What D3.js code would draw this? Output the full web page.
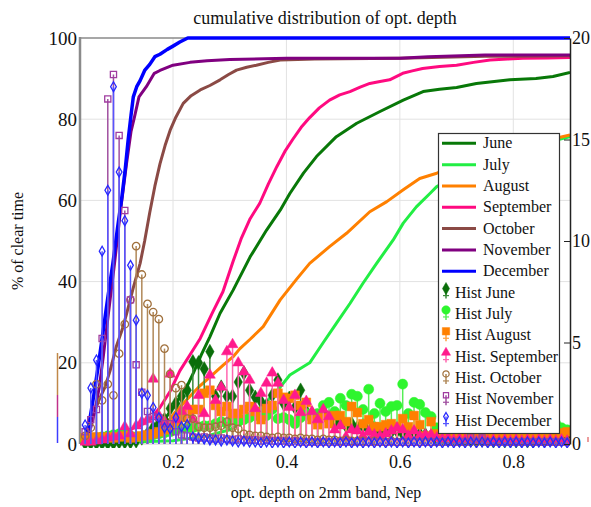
<!DOCTYPE html>
<html>
<head>
<meta charset="utf-8">
<script src="https://cdn.jsdelivr.net/npm/d3@7"></script>
<style>
    body { margin: 0; background: #fff; }
    svg text { font-family: "Liberation Serif", "Times New Roman", serif; fill: #111; }
</style>
</head>
<body>
<div id="chart"></div>
<script>

// axis ticks
var xTicks = [0.2, 0.4, 0.6, 0.8];
var yTicksLeft = [0, 20, 40, 60, 80, 100];
var yTicksRight = [0, 5, 10, 15, 20];

// cumulative curves: [opt. depth, % of clear time]
var cdfJune = [[0.040,0.2],[0.130,1],[0.160,2.5],[0.180,5],[0.200,9],[0.212,11.5],[0.224,14],[0.236,17.5],[0.250,22],[0.265,26.4],[0.283,32.2],[0.306,37.9],[0.336,46.1],[0.365,52.7],[0.389,57.6],[0.406,61.7],[0.430,66.7],[0.453,70.8],[0.488,75.7],[0.524,79],[0.565,81.9],[0.606,84.7],[0.641,86.8],[0.670,87.4],[0.700,87.8],[0.735,88.8],[0.794,89.7],[0.840,90],[0.870,90.5],[0.900,91.5]];
var cdfJuly = [[0.040,0.1],[0.200,0.8],[0.260,2],[0.300,3.5],[0.336,6.5],[0.362,10],[0.389,14],[0.406,17],[0.441,20],[0.465,25],[0.488,29.7],[0.512,34.6],[0.535,39.6],[0.559,44.5],[0.588,50.2],[0.606,54.4],[0.629,58.4],[0.653,61.7],[0.665,63.4],[0.700,66],[0.750,69.5],[0.800,72],[0.850,74],[0.900,75.7]];
var cdfAugust = [[0.040,0.2],[0.120,0.8],[0.160,2],[0.185,4.5],[0.205,8],[0.225,11],[0.245,14],[0.265,16.5],[0.289,19.5],[0.306,21.5],[0.318,23.5],[0.336,25.8],[0.359,28.9],[0.389,35.5],[0.418,40.6],[0.441,44.5],[0.476,48.6],[0.506,51.9],[0.547,57.2],[0.577,59.7],[0.606,62.6],[0.635,65.4],[0.665,66.7],[0.700,68.5],[0.750,70.5],[0.800,72.5],[0.850,74.5],[0.900,76.1]];
var cdfSeptember = [[0.040,0.3],[0.080,1],[0.112,3],[0.142,4.5],[0.159,6],[0.177,9],[0.195,13],[0.212,18],[0.230,22],[0.248,26],[0.270,32.5],[0.288,37.5],[0.306,45],[0.320,50.5],[0.336,55.5],[0.353,59.3],[0.368,64],[0.383,68.3],[0.397,72],[0.411,75],[0.426,78],[0.441,80.4],[0.458,82.8],[0.476,84.7],[0.494,86],[0.512,86.8],[0.530,87.9],[0.547,88.8],[0.565,89.3],[0.582,89.7],[0.605,91.3],[0.622,91.9],[0.640,92.5],[0.670,93],[0.700,93.3],[0.730,94],[0.759,94.6],[0.790,94.8],[0.817,95],[0.860,95.1],[0.900,95.2]];
var cdfOctober = [[0.040,0.5],[0.050,2.5],[0.059,7],[0.070,11],[0.080,14],[0.089,18],[0.100,24],[0.110,28],[0.118,32],[0.130,38.5],[0.142,44.5],[0.150,50],[0.159,57],[0.168,63.5],[0.177,69],[0.186,73.5],[0.195,77.3],[0.205,80.5],[0.218,83.9],[0.232,85.8],[0.248,87.2],[0.265,88.3],[0.283,89.7],[0.298,91],[0.312,92.1],[0.330,92.8],[0.347,93.3],[0.368,94],[0.389,94.6],[0.450,94.8],[0.600,95],[0.750,95.5],[0.900,95.6]];
var cdfNovember = [[0.040,0.5],[0.047,1.5],[0.055,4],[0.062,8],[0.070,14],[0.077,21.5],[0.086,32],[0.097,44.6],[0.107,57],[0.118,69],[0.126,77],[0.132,80.5],[0.140,85.5],[0.153,88],[0.167,91.3],[0.177,92],[0.200,93.3],[0.230,94],[0.260,94.4],[0.300,94.7],[0.400,95],[0.600,95],[0.650,95.4],[0.750,95.8],[0.900,95.8]];
var cdfDecember = [[0.040,0.5],[0.045,1],[0.052,5],[0.060,11.7],[0.068,19],[0.077,28],[0.085,36],[0.094,44.5],[0.102,53],[0.110,61],[0.116,68],[0.121,75],[0.126,81],[0.130,85.5],[0.136,88],[0.142,89.5],[0.150,92],[0.159,93.5],[0.168,95.4],[0.177,96],[0.190,97.2],[0.200,98],[0.212,99],[0.226,100],[0.900,100]];

// histogram bins (opt. depth) and values (% per bin, right axis)
var histBins = [0.045,0.055,0.065,0.075,0.085,0.095,0.105,0.115,0.125,0.135,
    0.145,0.155,0.165,0.175,0.185,0.195,0.205,0.215,0.225,0.235,
    0.245,0.255,0.265,0.275,0.285,0.295,0.305,0.315,0.325,0.335,
    0.345,0.355,0.365,0.375,0.385,0.395,0.405,0.415,0.425,0.435,
    0.445,0.455,0.465,0.475,0.485,0.495,0.505,0.515,0.525,0.535,
    0.545,0.555,0.565,0.575,0.585,0.595,0.605,0.615,0.625,0.635,
    0.645,0.655,0.665,0.675,0.685,0.695,0.705,0.715,0.725,0.735,
    0.745,0.755,0.765,0.775,0.785,0.795,0.805,0.815,0.825,0.835,
    0.845,0.855,0.865,0.875,0.885,0.895];

var histJune = [0.05,0.05,0.05,0.05,0.05,0.05,0.1,0.1,0.1,0.15,
    0.3,0.5,0.8,1.0,1.2,1.75,2.0,2.35,2.65,4.05,
    4.0,3.7,4.55,2.35,2.8,2.35,2.35,3.05,3.5,2.65,
    2.3,2.1,1.9,2.4,3.15,2.0,2.25,1.8,2.65,1.6,
    1.5,1.3,1.6,1.2,1.0,1.1,0.9,1.0,0.8,0.9,
    0.7,0.8,0.6,0.7,0.6,0.65,0.5,0.6,0.55,0.5,
    0.45,0.4,0.3,0.3,0.25,0.3,0.2,0.25,0.2,0.2,
    0.2,0.2,0.15,0.2,0.15,0.2,0.15,0.2,0.15,0.15,
    0.2,0.2,0.25,0.3,0.35,0.4];
var histJuly = [0.2,0.25,0.3,0.35,0.4,0.45,0.5,0.45,0.4,0.35,
    0.3,0.35,0.45,0.5,0.55,0.6,0.7,0.75,0.8,0.8,
    0.85,0.9,0.9,1.0,1.1,1.0,1.2,1.1,1.2,1.3,
    1.4,1.6,1.4,1.7,1.25,1.3,1.2,1.0,1.3,1.5,
    1.3,1.5,1.9,2.05,1.6,2.25,1.9,2.45,2.35,1.7,
    2.7,1.5,2.0,1.6,1.85,1.9,2.95,1.5,2.05,1.95,
    1.55,1.35,0.8,0.6,0.55,0.6,0.5,0.55,0.6,0.5,
    0.55,0.5,0.6,0.5,0.55,0.5,0.6,0.55,0.5,0.6,
    0.7,0.8,0.9,1.0,0.8,0.7];
var histAugust = [0.3,0.3,0.35,0.3,0.35,0.3,0.35,0.4,0.3,0.35,
    0.4,0.45,0.5,0.6,0.7,0.9,1.1,1.3,1.5,1.7,
    1.7,2.5,2.65,1.9,1.6,1.85,1.5,1.5,1.7,1.85,
    1.6,1.2,1.75,1.9,2.5,2.3,2.25,2.4,1.9,2.05,
    1.2,0.95,1.3,1.0,1.4,1.4,1.1,1.85,1.55,1.0,
    1.2,0.85,0.85,0.95,1.0,0.85,1.25,0.85,1.4,0.95,
    0.4,1.1,0.5,0.45,0.4,0.45,0.4,0.45,0.4,0.4,
    0.45,0.4,0.4,0.45,0.4,0.4,0.45,0.4,0.45,0.4,
    0.45,0.5,0.45,0.5,0.55,0.6];
var histSeptember = [0.1,0.1,0.15,0.2,0.3,0.35,0.4,0.85,0.5,0.9,
    1.1,1.2,3.2,1.4,1.1,3.45,1.2,1.6,1.85,1.2,
    2.4,1.5,3.4,2.15,2.8,4.55,4.9,4.0,3.55,3.15,
    1.75,2.5,3.0,3.5,3.0,2.15,1.8,2.4,1.55,2.1,
    1.6,1.2,1.7,1.35,0.7,0.9,0.35,0.7,0.65,0.4,
    0.6,0.45,0.4,0.5,0.65,0.8,0.7,0.4,0.65,0.4,
    0.45,0.45,0.3,0.25,0.3,0.2,0.25,0.2,0.2,0.15,
    0.2,0.15,0.2,0.15,0.2,0.15,0.2,0.15,0.2,0.15,
    0.2,0.15,0.2,0.15,0.2,0.15];
var histOctober = [0.4,0.8,2.95,2.15,2.95,2.4,4.45,5.9,7.1,9.75,
    8.35,6.9,6.5,6.15,4.7,3.45,2.75,2.9,1.25,1.25,
    0.85,0.8,0.8,0.85,0.9,1.1,0.8,0.75,0.5,0.45,
    0.4,0.4,0.35,0.3,0.35,0.3,0.3,0.25,0.3,0.25,
    0.25,0.2,0.25,0.2,0.2,0.15,0.2,0.15,0.15,0.15,
    0.1,0.15,0.1,0.1,0.15,0.1,0.1,0.1,0.1,0.1,
    0.1,0.1,0.1,0.1,0.1,0.1,0.1,0.1,0.1,0.1,
    0.1,0.1,0.1,0.1,0.1,0.1,0.1,0.1,0.1,0.1,
    0.1,0.1,0.1,0.1,0.1,0.1];
var histNovember = [0.6,1.2,1.7,5.2,17.0,18.2,15.2,11.5,7.1,3.9,
    2.55,1.6,1.35,1.3,1.0,1.0,0.6,0.45,0.4,0.35,
    0.3,0.35,0.3,0.25,0.3,0.25,0.2,0.25,0.2,0.2,
    0.2,0.15,0.2,0.15,0.15,0.15,0.1,0.15,0.1,0.1,
    0.1,0.1,0.1,0.1,0.1,0.1,0.1,0.1,0.1,0.1,
    0.1,0.1,0.1,0.1,0.1,0.1,0.1,0.1,0.1,0.1,
    0.1,0.1,0.1,0.1,0.1,0.1,0.1,0.1,0.35,0.4,
    0.3,0.1,0.1,0.1,0.1,0.1,0.1,0.1,0.1,0.1,
    0.1,0.1,0.1,0.1,0.1,0.1];
var histDecember = [0.94,2.76,4.14,9.5,12.5,17.6,13.4,11.0,8.8,6.1,
    2.5,2.4,1.8,1.3,0.8,0.75,1.3,0.85,0.95,0.35,
    0.3,0.25,0.2,0.2,0.15,0.2,0.15,0.1,0.15,0.1,
    0.1,0.05,0.1,0.05,0.1,0.05,0.1,0.05,0.1,0.05,
    0.1,0.05,0.1,0.05,0.1,0.05,0.1,0.05,0.1,0.05,
    0.1,0.05,0.1,0.05,0.1,0.05,0.1,0.05,0.1,0.05,
    0.1,0.05,0.1,0.05,0.1,0.05,0.1,0.05,0.1,0.05,
    0.1,0.05,0.1,0.05,0.1,0.05,0.1,0.05,0.1,0.05,
    0.1,0.05,0.1,0.05,0.1,0.05];

var curves = [
    {name: "June", data: cdfJune, color: "#087808", width: 3},
    {name: "July", data: cdfJuly, color: "#22ee44", width: 3},
    {name: "August", data: cdfAugust, color: "#ff8000", width: 3},
    {name: "September", data: cdfSeptember, color: "#ff0a80", width: 3},
    {name: "October", data: cdfOctober, color: "#8b4a45", width: 3},
    {name: "November", data: cdfNovember, color: "#800080", width: 3},
    {name: "December", data: cdfDecember, color: "#0000ff", width: 3.5}
];

var hists = [
    {name: "Hist June", data: histJune, type: d3.symbolDiamond, size: 62, fill: "#0a6e0a", stroke: "#0a6e0a", stem: "#3a8a3a"},
    {name: "Hist July", data: histJuly, type: d3.symbolCircle, size: 80, fill: "#2ef52e", stroke: "#2ef52e", stem: "#55ee55"},
    {name: "Hist August", data: histAugust, type: d3.symbolSquare, size: 78, fill: "#ff8000", stroke: "#ff8000", stem: "#ffa040"},
    {name: "Hist. September", data: histSeptember, type: d3.symbolTriangle, size: 52, fill: "#ff1a8c", stroke: "#ff1a8c", stem: "#ff66b0"},
    {name: "Hist. October", data: histOctober, type: d3.symbolCircle, size: 44, fill: "none", stroke: "#a0703c", stem: "#b08858"},
    {name: "Hist November", data: histNovember, type: d3.symbolSquare, size: 38, fill: "none", stroke: "#a03ca0", stem: "#a050a0"},
    {name: "Hist December", data: histDecember, type: d3.symbolDiamond, size: 28, fill: "none", stroke: "#2828ff", stem: "#5555ff"}
];

var width = 591, height = 507;
var pLeft = 80, pRight = 570, pTop = 38, pBottom = 444;

var svg = d3.select("#chart").append("svg")
    .attr("width", width)
    .attr("height", height);

var x = d3.scaleLinear().domain([0.036, 0.9]).range([pLeft, pRight]);
var yL = d3.scaleLinear().domain([0, 100]).range([pBottom, pTop]);
var yR = d3.scaleLinear().domain([0, 20]).range([pBottom, pTop]);

svg.append("defs").append("clipPath").attr("id", "plotclip")
    .append("rect")
    .attr("x", pLeft).attr("y", pTop - 4)
    .attr("width", pRight - pLeft).attr("height", pBottom - pTop + 8);

//grid
svg.append("g").selectAll("line").data(xTicks).enter().append("line")
    .attr("x1", function (d) { return x(d); })
    .attr("x2", function (d) { return x(d); })
    .attr("y1", pTop).attr("y2", pBottom)
    .style("stroke", "#e2e2e2").style("stroke-width", 1);

svg.append("g").selectAll("line").data(yTicksLeft.slice(1, 5)).enter().append("line")
    .attr("x1", pLeft).attr("x2", pRight)
    .attr("y1", function (d) { return yL(d); })
    .attr("y2", function (d) { return yL(d); })
    .style("stroke", "#e2e2e2").style("stroke-width", 1);

svg.append("line").attr("x1", pLeft).attr("x2", pRight).attr("y1", pBottom).attr("y2", pBottom)
    .style("stroke", "#c8c8c8");
svg.append("line").attr("x1", pLeft).attr("x2", pRight).attr("y1", pTop).attr("y2", pTop)
    .style("stroke", "#8a8a8a").style("stroke-width", 1.5);

//left axis
var yAxisLeft = d3.axisLeft(yL).tickValues(yTicksLeft).tickSize(0).tickPadding(3);
var gl = svg.append("g").attr("transform", "translate(" + pLeft + ",0)").call(yAxisLeft);
gl.select(".domain").remove();
gl.selectAll("text").style("font-size", "19px");

svg.append("line").attr("x1", pLeft).attr("x2", pLeft).attr("y1", pTop - 1).attr("y2", pBottom)
    .style("stroke", "#8a8a8a").style("stroke-width", 2.5);

//bottom axis
var xAxis = d3.axisBottom(x).tickValues(xTicks).tickSize(0).tickPadding(11)
    .tickFormat(d3.format(".1f"));
var gx = svg.append("g").attr("transform", "translate(0," + pBottom + ")").call(xAxis);
gx.select(".domain").remove();
gx.selectAll("text").style("font-size", "18px");

//curves
var line = d3.line()
    .x(function (d) { return x(d[0]); })
    .y(function (d) { return yL(d[1]); });

var plot = svg.append("g").attr("clip-path", "url(#plotclip)");

plot.selectAll(".cdf").data(curves).enter().append("path")
    .attr("class", "cdf")
    .attr("d", function (d) { return line(d.data); })
    .style("fill", "none")
    .style("stroke", function (d) { return d.color; })
    .style("stroke-width", function (d) { return d.width; })
    .style("stroke-linejoin", "round");

//histograms as stems
hists.forEach(function (h) {
    var pts = histBins.map(function (b, i) { return {x: b, v: h.data[i]}; });
    var g = plot.append("g");
    g.selectAll("line").data(pts).enter().append("line")
        .attr("x1", function (d) { return x(d.x); })
        .attr("x2", function (d) { return x(d.x); })
        .attr("y1", yR(0))
        .attr("y2", function (d) { return yR(d.v); })
        .style("stroke", h.stem)
        .style("stroke-width", 1.5);
    g.selectAll("path").data(pts).enter().append("path")
        .attr("transform", function (d) { return "translate(" + x(d.x) + "," + yR(d.v) + ")"; })
        .attr("d", d3.symbol().type(h.type).size(h.size))
        .style("fill", h.fill)
        .style("stroke", h.stroke)
        .style("stroke-width", h.fill == "none" ? 1.3 : 0.5);
});

//right axis
var yAxisRight = d3.axisRight(yR).tickValues(yTicksRight).tickSizeInner(-6).tickSizeOuter(0).tickPadding(2);
var gr = svg.append("g").attr("transform", "translate(" + pRight + ",0)").call(yAxisRight);
gr.select(".domain").style("stroke", "#222").style("stroke-width", 1.5);
gr.selectAll(".tick line").style("stroke", "#222");
gr.selectAll("text").style("font-size", "18px");

// small marks left of the left axis
svg.append("line").attr("x1", 57.5).attr("x2", 57.5).attr("y1", 353).attr("y2", 395)
    .style("stroke", "#c08848").style("stroke-width", 1.5);
svg.append("line").attr("x1", 57.5).attr("x2", 57.5).attr("y1", 395).attr("y2", 417)
    .style("stroke", "#c0308a").style("stroke-width", 1.5);
svg.append("line").attr("x1", 57.5).attr("x2", 57.5).attr("y1", 417).attr("y2", 443)
    .style("stroke", "#3c3cff").style("stroke-width", 1.5);
svg.append("line").attr("x1", 588).attr("x2", 588).attr("y1", 437).attr("y2", 442)
    .style("stroke", "#e05a5a").style("stroke-width", 1.2);

//legend
var lg = svg.append("g");
lg.append("rect")
    .attr("x", 438.5).attr("y", 133.5)
    .attr("width", 121).attr("height", 300)
    .style("fill", "#fff").style("stroke", "#333").style("stroke-width", 1.2);

var itemY = function (i) { return 143.3 + i * 21.33; };

curves.forEach(function (c, i) {
    lg.append("line")
        .attr("x1", 442).attr("x2", 476)
        .attr("y1", itemY(i)).attr("y2", itemY(i))
        .style("stroke", c.color).style("stroke-width", 3);
    lg.append("text")
        .attr("x", 483).attr("y", itemY(i) + 5)
        .style("font-size", "16px")
        .text(c.name);
});

hists.forEach(function (h, j) {
    var cy = itemY(j + 7);
    lg.append("line")
        .attr("x1", 446).attr("x2", 446)
        .attr("y1", cy - 4).attr("y2", cy + 6)
        .style("stroke", h.stem).style("stroke-width", 1.5);
    lg.append("line")
        .attr("x1", 443).attr("x2", 449)
        .attr("y1", cy + 3).attr("y2", cy + 3)
        .style("stroke", h.stem).style("stroke-width", 1.2);
    lg.append("path")
        .attr("transform", "translate(446," + (cy - 4) + ")")
        .attr("d", d3.symbol().type(h.type).size(h.size * 0.7))
        .style("fill", h.fill)
        .style("stroke", h.stroke)
        .style("stroke-width", h.fill == "none" ? 1.2 : 0.5);
    lg.append("text")
        .attr("x", 455).attr("y", cy + 5)
        .style("font-size", "16px")
        .text(h.name);
});

//titles
svg.append("text")
    .attr("x", 325).attr("y", 24)
    .style("font-size", "18px")
    .style("text-anchor", "middle")
    .text("cumulative distribution of opt. depth");

svg.append("text")
    .attr("x", 326).attr("y", 498)
    .style("font-size", "16px")
    .style("text-anchor", "middle")
    .text("opt. depth on 2mm band, Nep");

svg.append("text")
    .attr("transform", "translate(23,241) rotate(-90)")
    .style("font-size", "16px")
    .style("text-anchor", "middle")
    .text("% of clear time");

</script>
</body>
</html>
